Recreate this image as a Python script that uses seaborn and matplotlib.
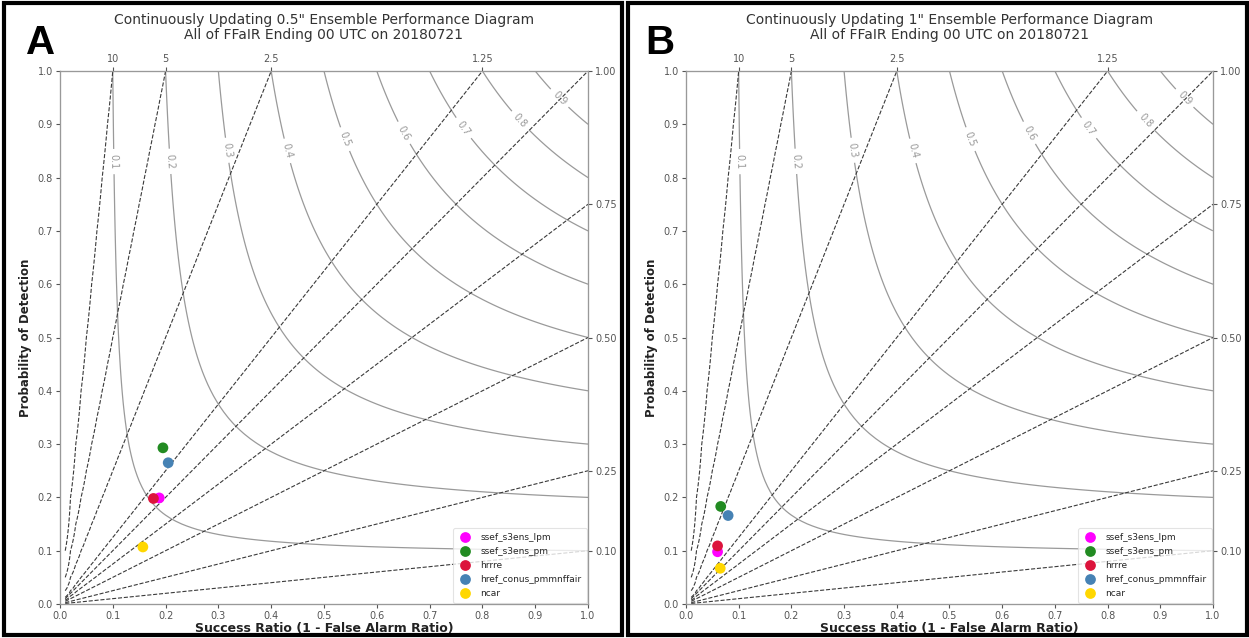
import numpy as np
import pandas as pd
import matplotlib
matplotlib.use("Agg")
import matplotlib.pyplot as plt
from matplotlib.patches import Rectangle
import seaborn as sns

# Ensemble systems and their colours
models = ["ssef_s3ens_lpm", "ssef_s3ens_pm", "hrrre", "href_conus_pmmnffair", "ncar"]
colors = ["#ff00ff", "#228b22", "#dc143c", "#4682b4", "#ffd700"]

# 0.5" threshold
sr_05 = [0.188, 0.195, 0.177, 0.205, 0.157]
pod_05 = [0.199, 0.293, 0.198, 0.265, 0.107]

# 1" threshold
sr_1 = [0.060, 0.066, 0.060, 0.080, 0.065]
pod_1 = [0.098, 0.183, 0.109, 0.166, 0.067]

titles = [
    "Continuously Updating 0.5\" Ensemble Performance Diagram\nAll of FFaIR Ending 00 UTC on 20180721",
    "Continuously Updating 1\" Ensemble Performance Diagram\nAll of FFaIR Ending 00 UTC on 20180721",
]
panel_letters = ["A", "B"]

csi_levels = [0.1, 0.2, 0.3, 0.4, 0.5, 0.6, 0.7, 0.8, 0.9]
bias_levels = [0.1, 0.25, 0.5, 0.75, 1.0, 1.25, 2.5, 5.0, 10.0]
top_ticks = [0.1, 0.2, 0.4, 0.8]
top_labels = ["10", "5", "2.5", "1.25"]
right_ticks = [0.1, 0.25, 0.5, 0.75, 1.0]
right_labels = ["0.10", "0.25", "0.50", "0.75", "1.00"]
axis_ticks = [0.0, 0.1, 0.2, 0.3, 0.4, 0.5, 0.6, 0.7, 0.8, 0.9, 1.0]
csi_label_pos = [(0.098, 0.83), (0.20, 0.83), (0.307, 0.85), (0.43, 0.85), (0.534, 0.87),
                 (0.644, 0.88), (0.76, 0.89), (0.875, 0.91), (0.947, 0.95)]

sns.set_style("white")
plt.rcParams["font.family"] = ["DejaVu Sans"]

fig = plt.figure(figsize=(12.49, 6.38), dpi=100)
axes_rects = [[0.048, 0.0533, 0.4228, 0.8354], [0.5492, 0.0533, 0.4220, 0.8354]]

grid = np.arange(0, 1.01, 0.01)
sr_g, pod_g = np.meshgrid(grid, grid)
with np.errstate(divide="ignore", invalid="ignore"):
    bias = pod_g / sr_g
    csi = 1.0 / (1.0 / sr_g + 1.0 / pod_g - 1.0)

spine_c = "#999999"
text_c = "#333333"
tick_c = "#555555"

datasets = [(sr_05, pod_05), (sr_1, pod_1)]
for i, (sr, pod) in enumerate(datasets):
    ax = fig.add_axes(axes_rects[i])
    cs = ax.contour(sr_g, pod_g, csi, levels=csi_levels, colors="#9a9a9a", linewidths=0.9)
    ax.clabel(cs, fmt="%1.1f", fontsize=7, colors="#9a9a9a", inline=True,
              manual=csi_label_pos)
    ax.contour(sr_g, pod_g, np.ma.masked_invalid(bias), levels=bias_levels,
               colors="#3a3a3a", linestyles="dashed", linewidths=0.8)

    df = pd.DataFrame({"sr": sr, "pod": pod, "model": models})
    sns.scatterplot(data=df, x="sr", y="pod", hue="model", hue_order=models,
                    palette=colors, s=60, edgecolor="none", ax=ax, zorder=5)

    ax.set_xlim(0, 1)
    ax.set_ylim(0, 1)
    ax.set_xticks(axis_ticks)
    ax.set_yticks(axis_ticks)
    ax.set_xticklabels([f"{t:.1f}" for t in axis_ticks])
    ax.set_yticklabels([f"{t:.1f}" for t in axis_ticks])
    ax.tick_params(axis="both", labelsize=7, colors=tick_c, length=3, width=0.8, pad=2)
    ax.set_xlabel("Success Ratio (1 - False Alarm Ratio)", fontsize=9,
                  fontweight="bold", color="#222222", labelpad=1)
    ax.set_ylabel("Probability of Detection", fontsize=8.5, fontweight="bold",
                  color="#222222", labelpad=4)
    for sp in ax.spines.values():
        sp.set_color(spine_c)

    leg = ax.legend(loc="lower right", fontsize=6.5, frameon=True, borderaxespad=0.15,
                    labelspacing=0.55, handletextpad=0.9, markerscale=1.0,
                    borderpad=0.55, handlelength=1.6)
    leg.get_frame().set_edgecolor("#dddddd")
    leg.get_frame().set_linewidth(0.8)

    axt = ax.twiny()
    axt.set_xlim(0, 1)
    axt.set_xticks(top_ticks)
    axt.set_xticklabels(top_labels)
    axt.tick_params(axis="x", labelsize=7, colors=tick_c, length=3, width=0.8, pad=2)
    axr = ax.twinx()
    axr.set_ylim(0, 1)
    axr.set_yticks(right_ticks)
    axr.set_yticklabels(right_labels)
    axr.tick_params(axis="y", labelsize=7, colors=tick_c, length=3, width=0.8, pad=2)
    for a in (axt, axr):
        for sp in a.spines.values():
            sp.set_color(spine_c)
        a.grid(False)

    ax.set_title(titles[i], fontsize=10, color=text_c, pad=23, linespacing=1.1)

# Panel frames and letters
frames = [(0.003, 0.004, 0.495, 0.992), (0.503, 0.004, 0.495, 0.992)]
letter_x = [0.021, 0.517]
for (x0, y0, w, h), lx, letter in zip(frames, letter_x, panel_letters):
    fig.patches.append(Rectangle((x0, y0), w, h, transform=fig.transFigure,
                                 fill=False, edgecolor="black", linewidth=3))
    fig.text(lx, 0.915, letter, fontsize=29, fontweight="bold", color="black",
             family=["Liberation Sans", "DejaVu Sans"])

fig.savefig("out.png", dpi=100)
